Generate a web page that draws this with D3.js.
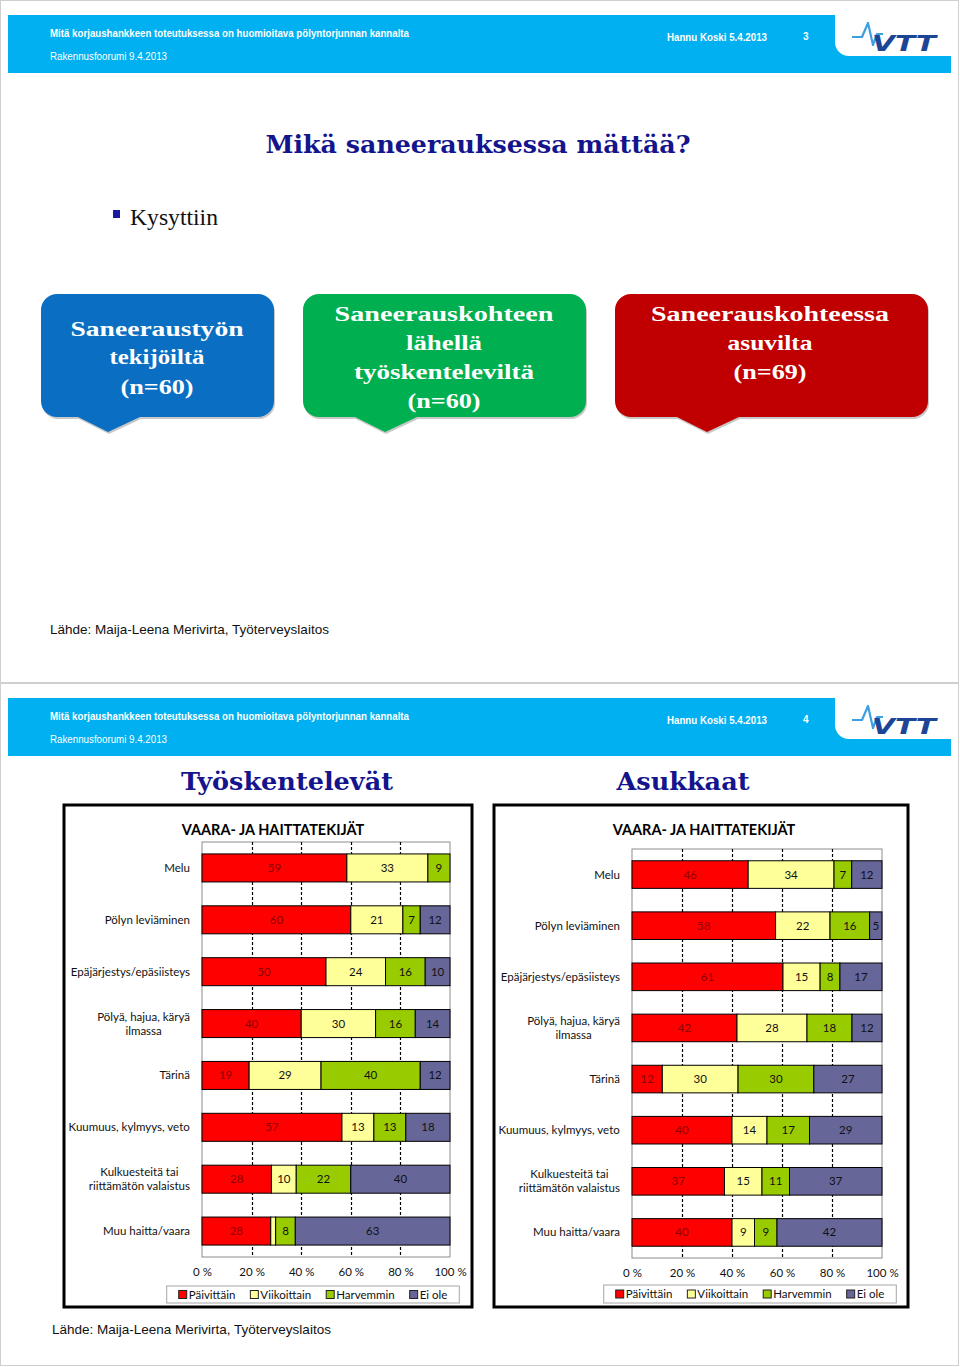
<!DOCTYPE html>
<html>
<head>
<meta charset="utf-8">
<script src="https://cdn.jsdelivr.net/npm/d3@7"></script>
<style>
  body { margin: 0; background: #fff; }
  svg { display: block; }
</style>
</head>
<body>
<svg id="page" width="960" height="1367"></svg>
<script>
// categories and series
const categories = [
  "Melu",
  "Pölyn leviäminen",
  "Epäjärjestys/epäsiisteys",
  "Pölyä, hajua, käryä\nilmassa",
  "Tärinä",
  "Kuumuus, kylmyys, veto",
  "Kulkuesteitä tai\nriittämätön valaistus",
  "Muu haitta/vaara"
];
const seriesNames = ["Päivittäin", "Viikoittain", "Harvemmin", "Ei ole"];
const seriesColors = ["#ff0000", "#ffff99", "#99cc00", "#666699"];

// Työskentelevät
const workersDaily  = [59, 60, 50, 40, 19, 57, 28, 28];
const workersWeekly = [33, 21, 24, 30, 29, 13, 10, 2];
const workersRarely = [9, 7, 16, 16, 40, 13, 22, 8];
const workersNone   = [0, 12, 10, 14, 12, 18, 40, 63];

// Asukkaat
const residentsDaily  = [46, 58, 61, 42, 12, 40, 37, 40];
const residentsWeekly = [34, 22, 15, 28, 30, 14, 15, 9];
const residentsRarely = [7, 16, 8, 18, 30, 17, 11, 9];
const residentsNone   = [12, 5, 17, 12, 27, 29, 37, 42];

const tickValues = [0, 0.2, 0.4, 0.6, 0.8, 1];

const svg = d3.select("#page");
const NAVY = "#14148c";
const CYAN = "#00b0f0";
const chartFont = "Lato, 'Open Sans', sans-serif";

// slide frames
[0, 683].forEach(oy => {
  svg.append("rect")
    .attr("x", 0.5).attr("y", oy + 0.5)
    .attr("width", 958).attr("height", 682)
    .attr("fill", "none").attr("stroke", "#cfcfcf");
});

function drawHeader(oy, pageNum) {
  const g = svg.append("g").attr("transform", `translate(0,${oy})`);
  g.append("rect").attr("x", 8).attr("y", 15).attr("width", 943).attr("height", 58).attr("fill", CYAN);
  g.append("path").attr("d", "M835,15 H951 V56 H849 A14,14 0 0 1 835,42 Z").attr("fill", "#fff");

  const hf = "'Liberation Sans', Arial, sans-serif";
  g.append("text").attr("x", 50).attr("y", 37)
    .attr("font-family", hf).attr("font-size", 10).attr("font-weight", "bold").attr("fill", "#fff")
    .attr("textLength", 359).attr("lengthAdjust", "spacingAndGlyphs")
    .text("Mitä korjaushankkeen toteutuksessa on huomioitava pölyntorjunnan kannalta");
  g.append("text").attr("x", 50).attr("y", 60)
    .attr("font-family", hf).attr("font-size", 10).attr("fill", "#fff")
    .attr("textLength", 117).attr("lengthAdjust", "spacingAndGlyphs")
    .text("Rakennusfoorumi 9.4.2013");
  g.append("text").attr("x", 667).attr("y", 41)
    .attr("font-family", hf).attr("font-size", 10).attr("font-weight", "bold").attr("fill", "#fff")
    .attr("textLength", 100).attr("lengthAdjust", "spacingAndGlyphs")
    .text("Hannu Koski 5.4.2013");
  g.append("text").attr("x", 803).attr("y", 40)
    .attr("font-family", hf).attr("font-size", 10).attr("font-weight", "bold").attr("fill", "#fff")
    .text(pageNum);

  // VTT logo
  g.append("path")
    .attr("d", "M852,37 H862 L868,23 L873,45 L877,34 H883")
    .attr("fill", "none").attr("stroke", "#3d9fe0").attr("stroke-width", 2.2)
    .attr("stroke-linejoin", "round");
  g.append("text").attr("x", 872).attr("y", 51)
    .attr("font-family", "'DejaVu Sans', sans-serif").attr("font-size", 21)
    .attr("font-weight", "bold").attr("font-style", "italic").attr("fill", "#1d4596")
    .attr("textLength", 64).attr("lengthAdjust", "spacingAndGlyphs")
    .text("VTT");
}

drawHeader(0, "3");
drawHeader(683, "4");

// slide 1 title and bullets
svg.append("text").attr("x", 478).attr("y", 153).attr("text-anchor", "middle")
  .attr("font-family", "'DejaVu Serif', serif").attr("font-weight", "bold").attr("font-size", 25)
  .attr("fill", NAVY).attr("textLength", 425).attr("lengthAdjust", "spacingAndGlyphs")
  .text("Mikä saneerauksessa mättää?");
svg.append("rect").attr("x", 113).attr("y", 210).attr("width", 7).attr("height", 8).attr("fill", "#1a1aa0");
svg.append("text").attr("x", 130).attr("y", 225)
  .attr("font-family", "'Liberation Serif', serif").attr("font-size", 24).attr("fill", "#111")
  .attr("textLength", 88).attr("lengthAdjust", "spacingAndGlyphs")
  .text("Kysyttiin");

// callouts
const callouts = [
  { x0: 41, x1: 274, tip: 108, color: "#0a6fc2",
    lines: ["Saneeraustyön", "tekijöiltä", "(n=60)"], widths: [173, 95, 73], y: [336, 364, 394], cx: 157 },
  { x0: 303, x1: 586, tip: 385, color: "#00b050",
    lines: ["Saneerauskohteen", "lähellä", "työskenteleviltä", "(n=60)"], widths: [219, 76, 180, 73], y: [321, 350, 379, 408], cx: 444 },
  { x0: 615, x1: 928, tip: 707, color: "#c00000",
    lines: ["Saneerauskohteessa", "asuvilta", "(n=69)"], widths: [238, 85, 73], y: [321, 350, 379], cx: 770 }
];
callouts.forEach(c => {
  const y0 = 294, y1 = 417, r = 16;
  const p = d3.path();
  p.moveTo(c.x0 + r, y0);
  p.lineTo(c.x1 - r, y0);
  p.arcTo(c.x1, y0, c.x1, y0 + r, r);
  p.lineTo(c.x1, y1 - r);
  p.arcTo(c.x1, y1, c.x1 - r, y1, r);
  p.lineTo(c.tip + 32, y1);
  p.lineTo(c.tip, y1 + 15);
  p.lineTo(c.tip - 30, y1);
  p.lineTo(c.x0 + r, y1);
  p.arcTo(c.x0, y1, c.x0, y1 - r, r);
  p.lineTo(c.x0, y0 + r);
  p.arcTo(c.x0, y0, c.x0 + r, y0, r);
  p.closePath();
  svg.append("path").attr("d", p.toString()).attr("fill", "#c8c8c8").attr("transform", "translate(1,2)");
  svg.append("path").attr("d", p.toString()).attr("fill", c.color);
  c.lines.forEach((t, i) => {
    svg.append("text").attr("x", c.cx).attr("y", c.y[i]).attr("text-anchor", "middle")
      .attr("font-family", "'Liberation Serif', serif").attr("font-weight", "bold").attr("font-size", 21)
      .attr("fill", "#fff").attr("textLength", c.widths[i]).attr("lengthAdjust", "spacingAndGlyphs")
      .text(t);
  });
});

svg.append("text").attr("x", 50).attr("y", 634)
  .attr("font-family", "'Liberation Sans', Arial, sans-serif").attr("font-size", 13.5).attr("fill", "#111")
  .text("Lähde: Maija-Leena Merivirta, Työterveyslaitos");

// slide 2 titles
[["Työskentelevät", 287, 212], ["Asukkaat", 683, 133]].forEach(([t, x, w]) => {
  svg.append("text").attr("x", x).attr("y", 790).attr("text-anchor", "middle")
    .attr("font-family", "'DejaVu Serif', serif").attr("font-weight", "bold").attr("font-size", 25)
    .attr("fill", NAVY).attr("textLength", w).attr("lengthAdjust", "spacingAndGlyphs")
    .text(t);
});

function drawChart(cfg) {
  const g = svg.append("g");
  g.append("rect").attr("x", cfg.boxX0).attr("y", 805)
    .attr("width", cfg.boxX1 - cfg.boxX0).attr("height", 502)
    .attr("fill", "#fff").attr("stroke", "#000").attr("stroke-width", 3);

  g.append("text").attr("x", cfg.titleX).attr("y", 835).attr("text-anchor", "middle")
    .attr("font-family", chartFont).attr("font-weight", "bold").attr("font-size", 14.5).attr("fill", "#000")
    .text("VAARA- JA HAITTATEKIJÄT");

  const rows = categories.map((c, i) => {
    const r = { cat: c };
    seriesNames.forEach((s, j) => { r[s] = cfg.values[j][i]; });
    return r;
  });
  const layers = d3.stack().keys(seriesNames).offset(d3.stackOffsetExpand)(rows);

  const x = d3.scaleLinear().domain([0, 1]).range([cfg.left, cfg.right]);
  const y = d3.scaleBand().domain(categories).range([cfg.top, cfg.bottom])
    .paddingInner(0.46).paddingOuter(0.23);

  // plot frame
  g.append("rect").attr("x", cfg.left).attr("y", cfg.top)
    .attr("width", cfg.right - cfg.left).attr("height", cfg.bottom - cfg.top)
    .attr("fill", "none").attr("stroke", "#8c8c8c");

  // dashed gridlines
  g.append("g").selectAll("line").data(tickValues.slice(1, -1)).join("line")
    .attr("x1", d => Math.round(x(d)) + 0.5).attr("x2", d => Math.round(x(d)) + 0.5)
    .attr("y1", cfg.top).attr("y2", cfg.bottom)
    .attr("stroke", "#000").attr("stroke-width", 1.2).attr("stroke-dasharray", "3,2");

  // bars
  const lg = g.append("g").selectAll("g").data(layers).join("g")
    .attr("fill", (d, i) => seriesColors[i]);
  lg.selectAll("rect").data(d => d).join("rect")
    .attr("x", d => x(d[0])).attr("y", d => y(d.data.cat))
    .attr("width", d => x(d[1]) - x(d[0])).attr("height", y.bandwidth())
    .attr("stroke", "#000").attr("stroke-width", 1);

  // value labels
  layers.forEach((layer, li) => {
    g.append("g").selectAll("text").data(layer.filter(d => x(d[1]) - x(d[0]) > 8)).join("text")
      .attr("x", d => (x(d[0]) + x(d[1])) / 2)
      .attr("y", d => y(d.data.cat) + y.bandwidth() / 2)
      .attr("dy", "0.35em").attr("text-anchor", "middle")
      .attr("font-family", chartFont).attr("font-size", 11.5)
      .attr("fill", li === 0 ? "#8a0000" : "#111")
      .text(d => d.data[seriesNames[li]]);
  });

  // x axis
  const xAxis = g.append("g").attr("transform", `translate(0,${cfg.bottom})`)
    .call(d3.axisBottom(x).tickValues(tickValues).tickSize(0).tickPadding(11)
      .tickFormat(d => Math.round(d * 100) + " %"));
  xAxis.select(".domain").remove();
  xAxis.selectAll("text").attr("font-family", chartFont).attr("font-size", 11.5).attr("fill", "#111");

  // category axis with multi-line labels
  const yAxis = g.append("g").attr("transform", `translate(${cfg.left},0)`)
    .call(d3.axisLeft(y).tickSize(0).tickPadding(12).tickFormat(""));
  yAxis.select(".domain").remove();
  yAxis.selectAll(".tick").each(function (d) {
    const tick = d3.select(this);
    const lines = d.split("\n");
    const t = tick.append("text").attr("font-family", chartFont).attr("font-size", 11.5)
      .attr("fill", "#111").attr("text-anchor", "middle");
    lines.forEach((ln, k) => {
      t.append("tspan").attr("x", 0).attr("y", (k - (lines.length - 1) / 2) * 14).attr("dy", "0.35em").text(ln);
    });
    const w = t.node().getBBox().width;
    t.selectAll("tspan").attr("x", -12 - w / 2);
  });

  // legend
  const legBox = g.append("rect");
  const leg = g.append("g");
  let cx = 0;
  seriesNames.forEach((s, i) => {
    const it = leg.append("g");
    it.append("rect").attr("x", 0).attr("y", -4).attr("width", 8).attr("height", 8)
      .attr("fill", seriesColors[i]).attr("stroke", "#222").attr("stroke-width", 1);
    const t = it.append("text").attr("x", 10).attr("dy", "0.35em")
      .attr("font-family", chartFont).attr("font-size", 11.5).attr("fill", "#111").text(s);
    const w = 10 + t.node().getComputedTextLength();
    it.attr("transform", `translate(${cx},0)`);
    cx += w + 15;
  });
  const total = cx - 15;
  const pad = 12;
  const ly = cfg.legendY + cfg.legendH / 2;
  leg.attr("transform", `translate(${cfg.legendCX - total / 2},${ly})`);
  legBox
    .attr("x", cfg.legendCX - total / 2 - pad).attr("y", cfg.legendY)
    .attr("width", total + 2 * pad).attr("height", cfg.legendH)
    .attr("fill", "#fff").attr("stroke", "#a6a6a6");
}

drawChart({
  left: 202, right: 450, top: 842, bottom: 1257,
  boxX0: 64, boxX1: 472, titleX: 273, legendCX: 313, legendY: 1286, legendH: 17,
  values: [workersDaily, workersWeekly, workersRarely, workersNone]
});
drawChart({
  left: 632, right: 882, top: 849, bottom: 1258,
  boxX0: 494, boxX1: 908, titleX: 704, legendCX: 750, legendY: 1285, legendH: 18,
  values: [residentsDaily, residentsWeekly, residentsRarely, residentsNone]
});

svg.append("text").attr("x", 52).attr("y", 1334)
  .attr("font-family", "'Liberation Sans', Arial, sans-serif").attr("font-size", 13.5).attr("fill", "#111")
  .text("Lähde: Maija-Leena Merivirta, Työterveyslaitos");
</script>
</body>
</html>
